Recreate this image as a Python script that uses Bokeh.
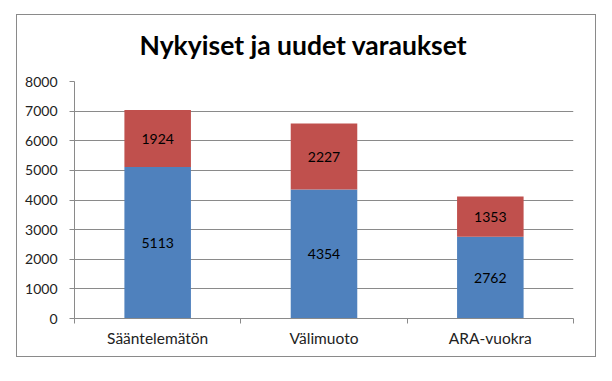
from bokeh.plotting import figure
from bokeh.models import ColumnDataSource, FixedTicker, Range1d, Title
from bokeh.embed import file_html
from bokeh.resources import INLINE
from bokeh.core.properties import value

categories = ["Sääntelemätön", "Välimuoto", "ARA-vuokra"]
nykyiset = [5113, 4354, 2762]
uudet = [1924, 2227, 1353]
y_ticks = [0, 1000, 2000, 3000, 4000, 5000, 6000, 7000, 8000]
title_text = "Nykyiset ja uudet varaukset"

x = [i + 0.5 for i in range(len(categories))]
top1 = [a + b for a, b in zip(nykyiset, uudet)]
mid0 = [a / 2 for a in nykyiset]
mid1 = [a + b / 2 for a, b in zip(nykyiset, uudet)]

src = ColumnDataSource(dict(x=x, n=nykyiset, u=uudet, top1=top1,
                            mid0=mid0, mid1=mid1,
                            ln=[str(v) for v in nykyiset],
                            lu=[str(v) for v in uudet]))

FONT = "Lato"
YMAX = y_ticks[-1]
p = figure(width=580, height=343, output_backend="svg", toolbar_location=None,
           x_range=Range1d(0, len(categories)), y_range=Range1d(0, YMAX),
           min_border_left=57, min_border_right=24, min_border_top=66,
           min_border_bottom=40)
p.styles = {"border": "1px solid #8a8a8a", "margin-left": "16px", "margin-top": "14px"}
p.outline_line_color = None
p.background_fill_color = "white"
p.border_fill_color = "white"

# spacer between frame and title (innermost in the "above" panel)
spacer = Title(text=" ", text_font_size="1px", standoff=18)
p.add_layout(spacer, "above")
t = Title(text=title_text, align="left",
          text_font=FONT, text_font_size="26.5px", text_font_style="bold",
          text_color="black", standoff=0, offset=65)
p.add_layout(t, "above")

p.vbar(x="x", bottom=0, top="n", width=0.4, source=src,
       fill_color="#4F81BD", line_color=None)
p.vbar(x="x", bottom="n", top="top1", width=0.4, source=src,
       fill_color="#C0504D", line_color=None)

p.text(x="x", y="mid0", text="ln", source=src, text_align="center",
       text_baseline="middle", text_font=value(FONT), text_font_size="14px",
       text_color="black")
p.text(x="x", y="mid1", text="lu", source=src, text_align="center",
       text_baseline="middle", text_font=value(FONT), text_font_size="14px",
       text_color="black")

# x axis
xt = FixedTicker(ticks=x, minor_ticks=list(range(len(categories) + 1)))
p.xaxis.ticker = xt
p.xaxis.major_label_overrides = {v: c for v, c in zip(x, categories)}
p.xaxis.major_tick_out = 0
p.xaxis.major_tick_in = 0
p.xaxis.minor_tick_out = 5
p.xaxis.minor_tick_in = 0
p.xaxis.minor_tick_line_color = "#8a8a8a"
p.xaxis.axis_line_color = "#8a8a8a"
p.xaxis.major_label_text_font = FONT
p.xaxis.major_label_text_font_size = "15.5px"
p.xaxis.major_label_text_color = "#222222"
p.xaxis.major_label_standoff = 5

# y axis
p.yaxis.ticker = FixedTicker(ticks=y_ticks)
p.yaxis.minor_tick_line_color = None
p.yaxis.major_tick_out = 5
p.yaxis.major_tick_in = 0
p.yaxis.major_tick_line_color = "#8a8a8a"
p.yaxis.axis_line_color = "#8a8a8a"
p.yaxis.major_label_text_font = FONT
p.yaxis.major_label_text_font_size = "14px"
p.yaxis.major_label_text_color = "#222222"
p.yaxis.major_label_standoff = 12

p.xgrid.grid_line_color = None
p.ygrid.ticker = FixedTicker(ticks=y_ticks)
p.ygrid.grid_line_color = "#8a8a8a"
p.ygrid.grid_line_width = 1

open("out.html", "w").write(file_html(p, INLINE))
